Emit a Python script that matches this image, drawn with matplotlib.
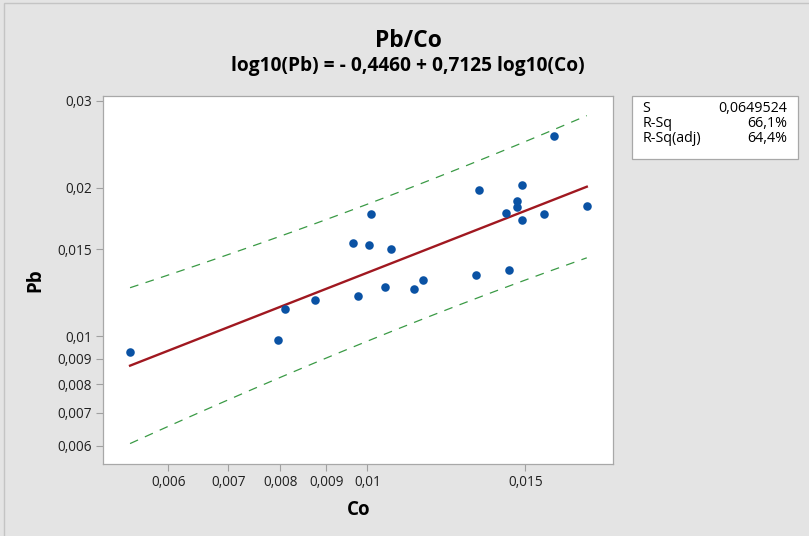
import numpy as np
import matplotlib
matplotlib.use("Agg")
import matplotlib.pyplot as plt
from matplotlib.patches import Rectangle

# Co / Pb values (log scales)
co = [0.005438, 0.007951, 0.008091, 0.008737, 0.009632, 0.009764, 0.010051,
      0.010095, 0.010457, 0.010619, 0.011281, 0.011527, 0.013229, 0.013321,
      0.014268, 0.014388, 0.014697, 0.014697, 0.014864, 0.014864, 0.015740,
      0.016148, 0.017563]
pb = [0.009277, 0.009838, 0.011368, 0.011820, 0.015430, 0.012050, 0.015330,
      0.017700, 0.012600, 0.015030, 0.012450, 0.013020, 0.013290, 0.019770,
      0.017800, 0.013620, 0.018780, 0.018290, 0.020290, 0.017230, 0.017700,
      0.025510, 0.018400]

intercept = -0.4460
slope = 0.7125
s_value = 0.0649524
stats_labels = ["S", "R-Sq", "R-Sq(adj)"]
stats_values = ["0,0649524", "66,1%", "64,4%"]

xticks = [0.006, 0.007, 0.008, 0.009, 0.01, 0.015]
yticks = [0.006, 0.007, 0.008, 0.009, 0.01, 0.015, 0.02, 0.03]

plt.rcParams['font.family'] = ['Open Sans', 'DejaVu Sans']

fig = plt.figure(figsize=(8.09, 5.36), dpi=100)
fig.patch.set_facecolor('#e4e4e4')
fig.patches.append(Rectangle((4 / 809, -0.05), 1.2, 1 - 3 / 536 + 0.05, transform=fig.transFigure,
                             fill=False, edgecolor='#c4c4c4', lw=1.0))

ax = fig.add_axes([0.1277, 0.1343, 0.6304, 0.6872])
ax.set_xscale('log')
ax.set_yscale('log')

# fit and 95% prediction interval
lx = np.log10(co)
n = len(lx)
xbar = lx.mean()
sxx = ((lx - xbar) ** 2).sum()
t_val = 2.080  # t(0.975, df=21)
xs = np.linspace(lx.min(), lx.max(), 100)
fit = intercept + slope * xs
half = t_val * s_value * np.sqrt(1 + 1 / n + (xs - xbar) ** 2 / sxx)

green = '#3a9a45'
ax.plot(10 ** xs, 10 ** (fit + half), color=green, ls=(0, (7, 6)), lw=0.9, zorder=2)
ax.plot(10 ** xs, 10 ** (fit - half), color=green, ls=(0, (7, 6)), lw=0.9, zorder=2)
ax.plot(10 ** xs, 10 ** fit, color='#a01820', lw=1.7, zorder=3)
ax.scatter(co, pb, s=38, color='#0a52a4', zorder=4, linewidths=0)

ax.set_xlim(0.005077, 0.01880)
ax.set_ylim(0.005509, 0.03075)

ax.xaxis.set_major_locator(matplotlib.ticker.FixedLocator(xticks))
ax.yaxis.set_major_locator(matplotlib.ticker.FixedLocator(yticks))
ax.xaxis.set_minor_locator(matplotlib.ticker.NullLocator())
ax.yaxis.set_minor_locator(matplotlib.ticker.NullLocator())
ax.set_xticklabels([f"{v:g}".replace('.', ',') for v in xticks])
ax.set_yticklabels([f"{v:g}".replace('.', ',') for v in yticks])
ax.tick_params(labelsize=9.8, color='#a0a0a0', length=5, width=0.8, pad=3, labelcolor='#202020')
for sp in ax.spines.values():
    sp.set_color('#a8a8a8')
    sp.set_linewidth(0.9)

ax.set_xlabel('Co', fontsize=13.5, fontweight='bold', labelpad=7)
ax.set_ylabel('Pb', fontsize=13.5, fontweight='bold', labelpad=9)

fig.text(0.5045, 0.924, 'Pb/Co', ha='center', va='center', fontsize=16.5, fontweight='bold')
fig.text(0.5045, 0.876, 'log10(Pb) = - 0,4460 + 0,7125 log10(Co)', ha='center', va='center',
         fontsize=13.8, fontweight='bold')

# stats box
bx0, bx1 = 631.7 / 809, 798.3 / 809
by0, by1 = 1 - 159.3 / 536, 1 - 95.7 / 536
fig.patches.append(Rectangle((bx0, by0), bx1 - bx0, by1 - by0, transform=fig.transFigure,
                             facecolor='white', edgecolor='#a8a8a8', lw=0.9))
for i, (lab, val) in enumerate(zip(stats_labels, stats_values)):
    yy = 1 - (108.5 + 15 * i) / 536
    fig.text(642.5 / 809, yy, lab, ha='left', va='center', fontsize=10.3)
    fig.text(787 / 809, yy, val, ha='right', va='center', fontsize=10.3)

fig.savefig('out.png', dpi=100, facecolor=fig.get_facecolor())
